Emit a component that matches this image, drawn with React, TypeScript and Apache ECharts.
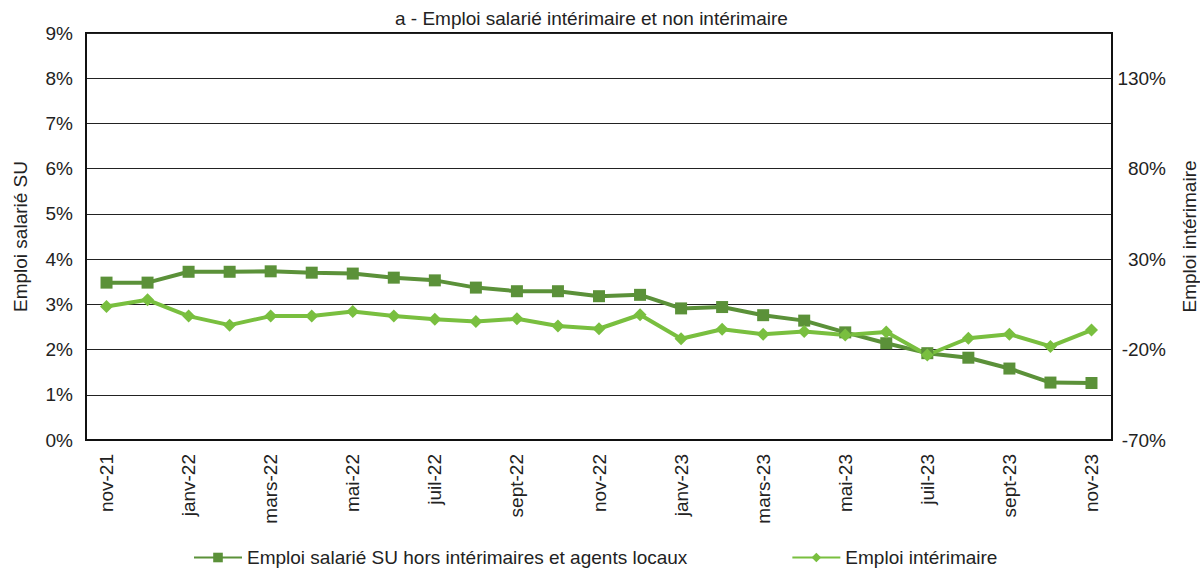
import React, { useEffect, useRef } from "react";
import * as echarts from "echarts";

const months = [
  "nov-21", "déc-21", "janv-22", "févr-22", "mars-22", "avr-22", "mai-22", "juin-22",
  "juil-22", "août-22", "sept-22", "oct-22", "nov-22", "déc-22", "janv-23", "févr-23",
  "mars-23", "avr-23", "mai-23", "juin-23", "juil-23", "août-23", "sept-23", "oct-23", "nov-23",
];

// Emploi salarié SU hors intérimaires et agents locaux (left axis, %)
const salarieSU = [
  3.48, 3.48, 3.72, 3.72, 3.73, 3.70, 3.68, 3.59, 3.53, 3.37, 3.29, 3.29, 3.18,
  3.21, 2.91, 2.94, 2.76, 2.64, 2.38, 2.14, 1.92, 1.82, 1.58, 1.27, 1.26,
];

// Emploi intérimaire (right axis, %)
const interimaire = [
  3.75, 7.5, -1.5, -6.5, -1.5, -1.5, 1.0, -1.5, -3.25, -4.5, -3.0, -7.0, -8.5,
  -0.75, -14.0, -8.75, -11.5, -10.0, -12.0, -10.25, -23.0, -13.75, -11.5, -18.25, -9.25,
];

const seriesNames = [
  "Emploi salarié SU hors intérimaires et agents locaux",
  "Emploi intérimaire",
];

const titleText = "a - Emploi salarié intérimaire et non intérimaire";
const leftAxisName = "Emploi salarié SU";
const rightAxisName = "Emploi intérimaire";

const FONT = "'Liberation Sans', Arial, sans-serif";
const DARK = "#5b9139";
const LIGHT = "#79bf3f";
const TEXT = "#222";
const FS = 19;

export default function App() {
  const ref = useRef<HTMLDivElement>(null);

  useEffect(() => {
    if (!ref.current) return;
    const chart = echarts.init(ref.current, undefined, { renderer: "svg" });
    chart.setOption({
      animation: false,
      backgroundColor: "#fff",
      textStyle: { fontFamily: FONT },
      title: {
        text: titleText,
        left: 390,
        top: 4,
        textStyle: { fontFamily: FONT, fontSize: FS, fontWeight: "normal", color: TEXT },
      },
      legend: {
        data: seriesNames,
        left: 193,
        top: 548,
        padding: 0,
        itemGap: 104,
        itemWidth: 48,
        itemHeight: 12,
        textStyle: { fontFamily: FONT, fontSize: FS, color: TEXT },
      },
      grid: {
        left: 86,
        right: 88,
        top: 33,
        bottom: 128,
        show: true,
        borderColor: "#111",
        borderWidth: 2,
        containLabel: false,
        outerBoundsMode: "none",
      },
      xAxis: {
        type: "category",
        data: months,
        boundaryGap: true,
        axisLine: { show: true, lineStyle: { color: "#111", width: 2 } },
        axisTick: { show: false },
        splitLine: { show: false },
        axisLabel: {
          interval: 1,
          rotate: 90,
          margin: 14,
          fontSize: FS,
          color: TEXT,
          fontFamily: FONT,
        },
      },
      yAxis: [
        {
          type: "value",
          min: 0,
          max: 9,
          interval: 1,
          name: leftAxisName,
          nameLocation: "middle",
          nameGap: 56,
          nameRotate: 90,
          nameTextStyle: { fontFamily: FONT, fontSize: FS, color: TEXT },
          axisLine: { show: true, lineStyle: { color: "#111", width: 2 } },
          axisTick: { show: false },
          splitLine: { show: true, lineStyle: { color: "#222", width: 1 } },
          axisLabel: {
            formatter: (v: number) => `${v}%`,
            fontSize: FS,
            color: TEXT,
            margin: 13,
            fontFamily: FONT,
          },
        },
        {
          type: "value",
          min: -70,
          max: 155,
          interval: 50,
          position: "right",
          name: rightAxisName,
          nameLocation: "middle",
          nameGap: 68,
          nameRotate: 90,
          nameTextStyle: { fontFamily: FONT, fontSize: FS, color: TEXT },
          axisLine: { show: true, lineStyle: { color: "#111", width: 2 } },
          axisTick: { show: false },
          splitLine: { show: false },
          axisLabel: {
            formatter: (v: number) => `${v}%`,
            showMaxLabel: false,
            align: "right",
            margin: 54,
            fontSize: FS,
            color: TEXT,
            fontFamily: FONT,
          },
        },
      ],
      series: [
        {
          name: seriesNames[0],
          type: "line",
          yAxisIndex: 0,
          data: salarieSU,
          symbol: "rect",
          symbolSize: 12,
          lineStyle: { color: DARK, width: 4 },
          itemStyle: { color: DARK },
        },
        {
          name: seriesNames[1],
          type: "line",
          yAxisIndex: 1,
          data: interimaire,
          symbol: "diamond",
          symbolSize: 13,
          lineStyle: { color: LIGHT, width: 4 },
          itemStyle: { color: LIGHT },
        },
      ],
    });
    return () => chart.dispose();
  }, []);

  return (
    <div
      ref={ref}
      style={{ position: "absolute", left: 0, top: 0, width: 1200, height: 568 }}
    />
  );
}
